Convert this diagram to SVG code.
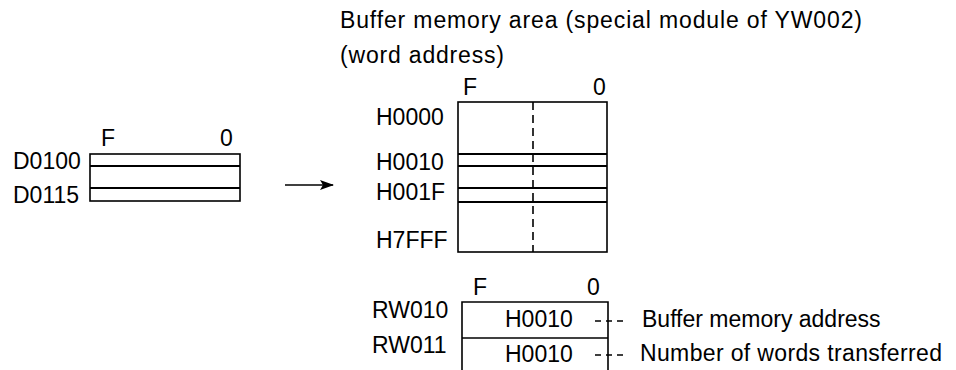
<svg xmlns="http://www.w3.org/2000/svg" width="956" height="370" viewBox="0 0 956 370">
  <style>
    text { font-family: "Liberation Sans", Arial, sans-serif; font-size: 23px; fill: #000; }
    .box { fill: none; stroke: #000; stroke-width: 1.6; }
    .row { stroke: #000; stroke-width: 2; }
    .dash { stroke: #000; stroke-width: 1.6; stroke-dasharray: 8 5; }
    .lead { stroke: #000; stroke-width: 1.4; stroke-dasharray: 6 5; }
  </style>
  <defs>
    <marker id="ah" markerWidth="14" markerHeight="10" refX="13" refY="5" orient="auto" markerUnits="userSpaceOnUse">
      <path d="M0,0 L14,5 L0,10 L3,5 Z" fill="#000"/>
    </marker>
  </defs>
  <rect width="956" height="370" fill="#fff"/>

  <g id="title">
    <text x="340" y="28" textLength="522" lengthAdjust="spacing">Buffer memory area (special module of YW002)</text>
    <text x="340" y="63" textLength="164" lengthAdjust="spacing">(word address)</text>
  </g>

  <g id="data-registers">
    <text x="101" y="146">F</text>
    <text x="220" y="146">0</text>
    <rect class="box" x="90" y="154" width="150" height="47"/>
    <line class="row" x1="90" y1="166" x2="240" y2="166"/>
    <line class="row" x1="90" y1="188" x2="240" y2="188"/>
    <text x="13" y="169">D0100</text>
    <text x="13" y="203">D0115</text>
  </g>

  <g id="buffer-memory">
    <text x="463" y="95">F</text>
    <text x="593" y="95">0</text>
    <rect class="box" x="458" y="102" width="149" height="150"/>
    <line class="dash" x1="533" y1="102" x2="533" y2="252"/>
    <line class="row" x1="458" y1="154" x2="607" y2="154"/>
    <line class="row" x1="458" y1="166" x2="607" y2="166"/>
    <line class="row" x1="458" y1="188" x2="607" y2="188"/>
    <line class="row" x1="458" y1="202" x2="607" y2="202"/>
    <text x="376" y="125">H0000</text>
    <text x="376" y="170">H0010</text>
    <text x="376" y="200">H001F</text>
    <text x="376" y="248">H7FFF</text>
  </g>

  <g id="link-registers">
    <text x="473" y="295">F</text>
    <text x="587" y="295">0</text>
    <path class="box" d="M462,370 V302 H608 V370"/>
    <line class="box" x1="462" y1="338" x2="608" y2="338"/>
    <text x="372" y="318">RW010</text>
    <text x="372" y="353">RW011</text>
    <text x="505" y="327">H0010</text>
    <text x="505" y="362">H0010</text>
  </g>

  <g id="annotations">
    <text x="642" y="327">Buffer memory address</text>
    <text x="640" y="361" textLength="302" lengthAdjust="spacing">Number of words transferred</text>
  </g>

  <g id="connectors">
    <line x1="285" y1="185" x2="333" y2="185" stroke="#000" stroke-width="1.6" marker-end="url(#ah)"/>
    <line class="lead" x1="595" y1="321" x2="626" y2="321"/>
    <line class="lead" x1="595" y1="355" x2="626" y2="355"/>
  </g>
</svg>
